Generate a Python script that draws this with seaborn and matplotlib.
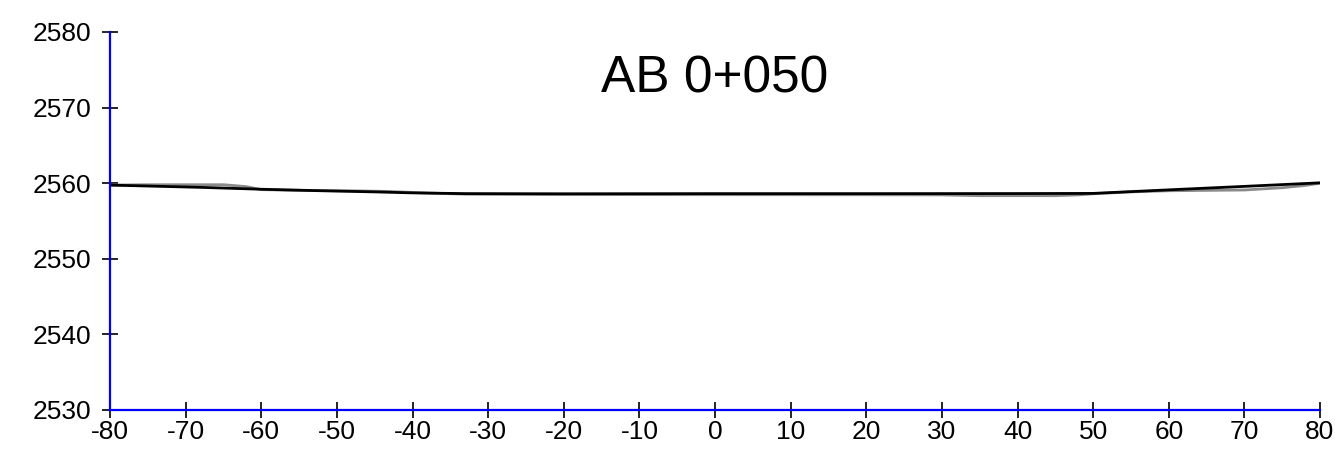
import matplotlib
matplotlib.use("Agg")
import matplotlib.pyplot as plt
import seaborn as sns
import pandas as pd

# Cross-section AB 0+050: offsets (m) and elevations (m)
ground_offset = [-80, -75, -65, -62, -60, -55, -47, -43, -38, -33, -20, 0, 20, 30, 35, 45, 48, 50,
                 55, 60, 65, 70, 75, 78, 80]
ground_elev = [2559.75, 2559.8, 2559.8, 2559.55, 2559.15, 2559.05, 2558.98, 2558.9, 2558.7, 2558.55,
               2558.5, 2558.48, 2558.47, 2558.45, 2558.35, 2558.35, 2558.45, 2558.6,
               2558.85, 2559.0, 2559.05, 2559.1, 2559.4, 2559.7, 2560.0]

design_offset = [-80, -68, -60, -52, -45, -40, -33, -20, 0, 20, 40, 50, 60, 70, 80]
design_elev = [2559.75, 2559.45, 2559.2, 2559.0, 2558.85, 2558.72, 2558.62, 2558.6, 2558.62,
               2558.62, 2558.63, 2558.65, 2559.12, 2559.58, 2560.05]

x_ticks = list(range(-80, 81, 10))
y_ticks = list(range(2530, 2581, 10))
title = "AB 0+050"

sns.set_style("white")
plt.rcParams["font.family"] = ["Liberation Sans", "DejaVu Sans"]
plt.rcParams["axes.unicode_minus"] = False

ground = pd.DataFrame({"offset": ground_offset, "elev": ground_elev})
design = pd.DataFrame({"offset": design_offset, "elev": design_elev})

fig = plt.figure(figsize=(13.35, 4.5), dpi=100)
ax = fig.add_axes([110 / 1335, 1 - 410 / 450, 1210 / 1335, 378 / 450])

sns.lineplot(data=ground, x="offset", y="elev", ax=ax, color="#8a8a8a", linewidth=2.0,
             estimator=None, sort=False)
sns.lineplot(data=design, x="offset", y="elev", ax=ax, color="black", linewidth=2.0,
             estimator=None, sort=False)

ax.set_xlim(-80, 80)
ax.set_ylim(2530, 2580)
ax.set_xticks(x_ticks)
ax.set_yticks(y_ticks)
ax.set_xlabel("")
ax.set_ylabel("")

for side in ("top", "right"):
    ax.spines[side].set_visible(False)
for side in ("left", "bottom"):
    ax.spines[side].set_color("blue")
    ax.spines[side].set_linewidth(1.6)

ax.tick_params(axis="both", which="major", bottom=True, left=True, direction="inout",
               length=11.5, width=1.2, color="black", labelsize=19, labelcolor="black")
ax.tick_params(axis="x", pad=1.5)
ax.tick_params(axis="y", pad=7.5)

ax.text(0.5, 0.875, title, transform=ax.transAxes, ha="center", va="center",
        fontsize=37, color="black")

fig.savefig("out.png", dpi=100)
